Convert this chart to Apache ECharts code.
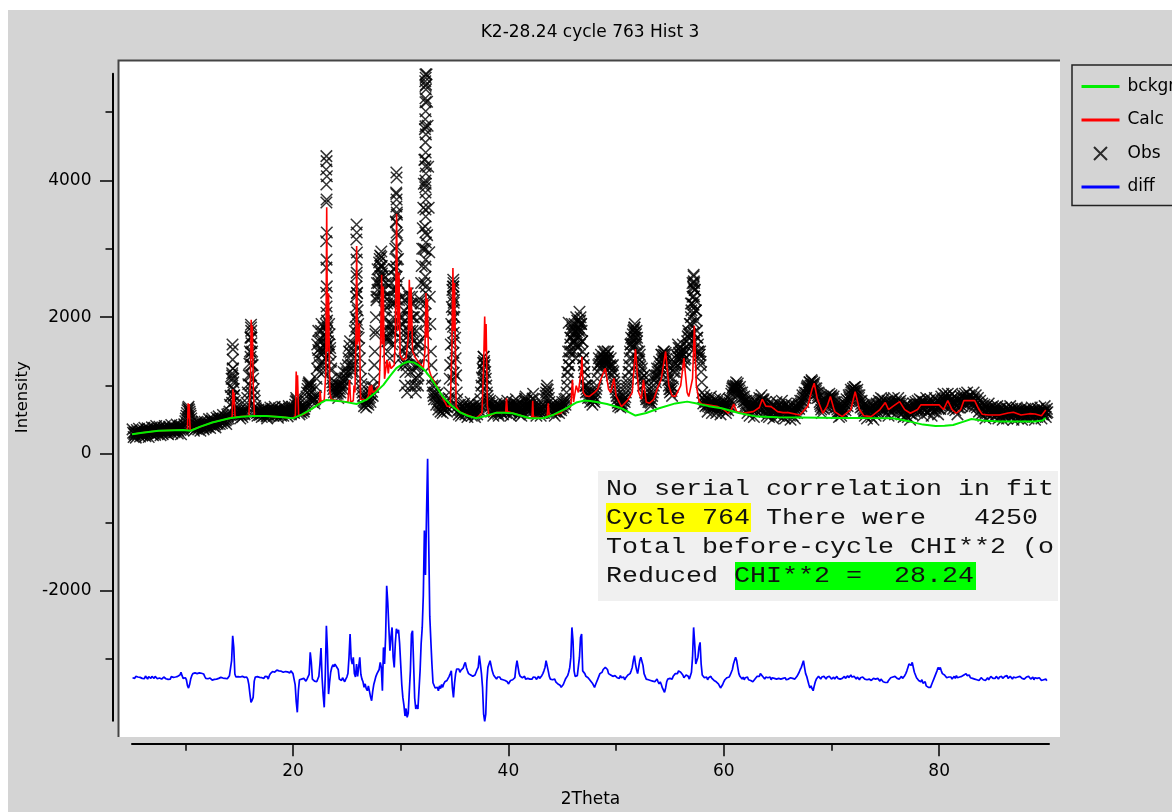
<!DOCTYPE html>
<html>
<head>
<meta charset="utf-8">
<script src="https://cdn.jsdelivr.net/npm/echarts@6/dist/echarts.min.js"></script>
<style>
  html, body { margin: 0; padding: 0; background: #ffffff; }
  #chart { width: 1172px; height: 812px; }
</style>
</head>
<body>
<div id="chart"></div>
<script>
// Rietveld refinement plot: observed counts, calculated profile, background and difference curve.
const titleText = 'K2-28.24 cycle 763 Hist 3';
const seriesNames = ['bckgr', 'Calc', 'Obs', 'diff'];
const xMajorTicks = [20, 40, 60, 80];
const xMinorTicks = [10, 30, 50, 70];
const yMajorTicks = [-2000, 0, 2000, 4000];
const yMinorTicks = [-3000, -1000, 1000, 3000, 5000];
const reportLines = [
  'No serial correlation in fit',
  'Cycle 764 There were   4250',
  'Total before-cycle CHI**2 (o',
  'Reduced CHI**2 =  28.24'
];

// observed profile on a regular 2theta grid: 5.1 .. 90.0, step 0.1 (one row per degree)
const obsStart = 5.1;
const obsStep = 0.1;
const obsCounts = [
  360,250,320,240,350,285,370,255,335,270,
  300,385,260,330,375,250,355,300,390,275,
  380,280,410,300,345,400,275,360,290,385,
  410,310,370,290,400,340,425,300,385,320,
  340,430,300,375,415,290,400,350,435,480,
  560,640,690,620,560,470,400,340,440,370,
  470,360,440,340,480,400,360,470,385,450,
  400,510,380,470,520,410,480,390,530,440,
  550,440,520,450,570,470,540,440,580,520,
  620,850,1100,1250,950,780,680,600,560,640,
  520,610,540,620,580,660,750,900,1150,1500,
  1850,1500,1100,850,700,640,560,650,570,630,
  540,650,560,670,590,520,640,560,680,600,
  660,560,690,580,640,530,670,600,560,690,
  560,680,590,650,550,700,620,580,690,640,
  600,720,820,760,660,580,680,600,700,620,
  700,780,900,1000,1050,1000,900,760,820,740,
  850,1100,1400,1650,1300,1800,1500,1200,1750,1400,
  1700,1850,1450,1750,1350,1100,1000,900,1050,880,
  950,820,1000,900,1100,950,1200,1000,1250,1100,
  1300,1500,1650,1300,1200,1400,1600,2000,2600,2100,
  1700,1400,1100,950,850,700,820,680,800,720,
  900,760,980,850,1100,1500,2000,2500,2300,2800,
  2600,2880,2400,2700,2100,2500,1800,1500,1900,1400,
  2200,1600,2000,2400,3000,3800,3200,2500,2000,1700,
  2300,1500,2100,1000,1700,900,2000,2300,1200,2200,
  1800,2200,1100,900,1600,1000,1300,2000,2500,3000,
  3600,4300,5200,5550,4800,3600,2300,1500,1100,900,
  800,1000,720,880,650,800,620,760,600,720,
  640,760,620,740,900,1300,1900,2400,2500,2000,
  1400,900,700,580,720,560,690,600,740,580,
  650,540,720,600,760,560,700,620,540,680,
  580,720,640,800,1000,1250,1420,1300,1100,900,
  800,700,780,620,720,560,680,600,740,620,
  560,700,620,760,580,680,720,600,780,640,
  700,560,660,760,620,700,800,650,720,580,
  660,560,720,600,780,840,700,620,760,680,
  600,740,880,720,640,560,700,600,680,560,
  640,720,600,800,900,1000,880,760,640,720,
  600,700,560,680,620,740,600,700,640,760,
  680,800,720,900,1100,1300,1500,1700,1900,1750,
  1500,1800,1600,1950,1700,1900,2000,1800,1500,1300,
  1100,900,1000,820,900,760,880,720,840,760,
  900,1000,1200,1400,1250,1450,1300,1500,1350,1450,
  1300,1500,1350,1200,1400,1150,1300,1100,1000,900,
  800,700,820,680,780,700,850,760,900,1000,
  1100,1300,1500,1700,1550,1800,1850,1700,1800,1500,
  1300,1450,1100,1250,1000,1150,900,800,860,760,
  820,700,800,900,1000,1150,1050,1250,1150,1350,
  1200,1450,1300,1500,1400,1480,1300,1150,1000,900,
  1000,850,1100,1300,1200,1450,1300,1550,1400,1500,
  1350,1600,1450,1300,1500,1650,1800,1600,1900,2100,
  2300,2600,2400,2100,1800,1600,1400,1500,1200,900,
  740,860,700,820,620,780,680,840,600,760,
  680,800,600,760,660,820,580,740,640,780,
  700,600,740,640,800,700,880,960,1000,900,
  1000,950,1030,880,980,820,900,760,840,700,
  780,600,740,560,800,660,720,540,780,640,
  740,600,820,680,860,740,800,620,760,560,
  700,540,760,600,720,520,700,580,760,600,
  560,720,620,780,540,700,520,740,600,700,
  620,500,720,560,680,520,700,600,740,660,
  780,700,860,760,900,820,960,1000,900,1050,
  950,1060,980,1040,880,960,820,900,760,700,
  600,760,660,800,700,860,740,880,800,860,
  760,840,680,760,600,700,540,680,560,700,
  600,740,640,800,700,860,800,940,860,960,
  880,980,860,940,780,860,680,780,600,720,
  560,720,520,700,600,760,540,700,500,680,
  560,740,620,780,660,820,700,800,640,760,
  600,780,560,740,620,800,660,820,580,760,
  660,820,700,780,580,740,540,700,560,720,
  540,700,500,680,580,740,620,760,640,780,
  660,800,640,780,560,760,640,820,600,780,
  640,800,560,760,620,820,660,780,580,760,
  660,840,720,880,700,860,740,880,660,840,
  720,880,660,840,640,820,580,780,680,840,
  700,860,740,880,720,900,760,860,680,840,
  740,900,700,860,680,820,620,780,580,740,
  560,720,520,700,600,740,540,680,580,700,
  540,680,580,700,520,660,560,680,500,640,
  560,680,520,660,580,700,540,660,500,640,
  580,680,520,640,560,660,500,620,540,660,
  560,660,520,640,580,680,540,640,500,620,
  540,660,560,680,520,640,580,700,540,660
];

// second set of observed counts on the interleaved grid 5.15 .. 90.05 (step 0.1)
const obsMidStart = 5.15;
const obsCountsMid = [
  310,295,280,310,320,300,330,290,300,290,
  340,320,300,350,310,320,330,345,335,325,
  330,350,360,320,375,340,320,330,350,360,
  360,340,330,350,370,380,360,345,350,370,
  380,360,340,395,350,370,380,400,420,520,
  600,670,650,590,520,430,380,400,410,420,
  420,400,390,420,440,380,420,430,410,425,
  460,440,430,490,460,450,430,460,470,500,
  500,480,490,510,520,500,490,510,550,590,
  720,980,1180,1100,860,720,640,580,600,580,
  570,580,590,600,620,700,820,1020,1320,1700,
  1700,1300,950,780,670,600,610,610,600,580,
  600,600,620,630,550,580,600,620,640,630,
  610,630,640,610,580,600,630,580,620,620,
  620,630,620,600,620,660,600,640,660,620,
  660,770,790,710,620,630,640,650,660,660,
  740,840,950,1030,1020,950,830,790,780,800,
  980,1250,1520,1480,1550,1650,1350,1480,1580,1550,
  1780,1650,1600,1550,1220,1050,950,980,960,910,
  880,910,950,1000,1020,1080,1100,1120,1180,1200,
  1400,1580,1480,1250,1300,1500,1800,2300,2350,1900,
  1550,1250,1020,900,780,760,750,740,760,810,
  830,870,910,980,1300,1750,2250,2400,2550,2700,
  2750,2640,2550,2400,2300,2150,1650,1700,1650,1800,
  1900,1800,2200,2700,3400,3500,2850,2250,1850,2000,
  1900,1800,1550,1350,1300,1450,2150,1750,1700,2000,
  2000,1650,1000,1250,1300,1150,1650,2250,2750,3300,
  3950,4750,5400,5150,4200,2950,1900,1300,1000,850,
  900,860,800,760,720,710,690,680,660,680,
  700,690,680,820,1100,1600,2150,2450,2250,1700,
  1150,800,640,650,640,620,640,670,660,615,
  600,630,660,680,660,630,660,580,610,630,
  650,680,720,900,1120,1330,1360,1200,1000,850,
  750,740,700,670,640,620,640,670,680,590,
  630,660,690,670,630,700,660,690,710,670,
  630,610,710,690,660,750,720,690,650,620,
  610,640,660,690,810,770,660,690,720,640,
  670,810,800,680,600,630,650,640,620,600,
  680,660,700,850,950,940,820,700,680,660,
  650,630,620,650,680,670,650,670,700,720,
  740,760,810,1000,1200,1400,1600,1800,1820,1620,
  1650,1700,1780,1820,1800,1950,1900,1650,1400,1200,
  1000,950,910,860,830,820,800,780,800,830,
  950,1100,1300,1320,1350,1380,1400,1420,1400,1380,
  1400,1420,1280,1300,1280,1220,1200,1050,950,850,
  750,760,750,730,740,780,800,830,950,1050,
  1200,1400,1600,1620,1680,1820,1780,1750,1650,1400,
  1380,1280,1180,1120,1080,1020,850,830,810,790,
  760,750,850,950,1080,1100,1150,1200,1250,1280,
  1320,1380,1400,1450,1440,1390,1220,1080,950,950,
  920,980,1200,1250,1320,1380,1420,1480,1450,1420,
  1480,1520,1380,1400,1580,1720,1700,1750,2000,2200,
  2450,2500,2250,1950,1700,1500,1450,1350,1050,820,
  800,780,760,720,700,730,760,720,680,720,
  740,700,680,710,740,700,660,690,710,740,
  650,670,690,720,750,790,920,980,950,950,
  980,990,950,930,900,860,830,800,770,740,
  690,670,650,680,730,690,630,660,710,690,
  670,710,750,770,800,780,710,690,660,630,
  620,650,680,660,620,610,640,670,680,580,
  640,670,700,660,620,610,630,680,650,660,
  560,610,640,620,600,610,650,670,700,720,
  740,780,810,830,860,890,980,950,975,1000,
  1000,1020,1010,960,920,890,860,830,730,650,
  680,710,730,750,780,800,810,840,830,810,
  800,760,720,680,650,620,610,620,630,650,
  670,690,720,750,780,830,870,900,910,920,
  930,920,900,860,820,770,730,690,660,640,
  640,620,610,650,680,650,620,600,590,620,
  650,680,700,720,740,760,750,720,700,680,
  690,670,650,680,710,750,740,740,670,710,
  740,760,740,680,660,640,620,660,670,630,
  620,600,590,630,660,690,700,720,660,720,
  730,720,710,670,660,700,730,740,690,740,
  720,680,660,690,720,740,720,680,670,710,
  750,780,800,790,780,800,810,770,750,780,
  800,760,750,740,730,710,680,730,760,770,
  780,800,810,800,810,830,810,770,760,790,
  820,800,780,770,750,720,700,680,660,650,
  640,620,610,650,670,640,610,630,640,620,
  610,640,650,610,590,610,620,590,570,600,
  620,600,590,620,640,620,600,580,570,610,
  630,600,580,600,610,580,560,580,600,620,
  610,590,580,610,630,610,590,570,560,580,
  600,610,620,600,580,610,640,620,600,610
];

// extra observed points where the profile climbs steeply (peak flanks), [2theta, counts]
const obsPeakPoints = [
  [14.38,1600],[14.42,1530],[14.4,1380],[14.44,1250],[14.36,1150],[14.46,1050],[14.4,950],[14.5,850],[14.34,750],
  [16.1,1890],[16.12,1800],[16.08,1710],[16.14,1620],[16.1,1480],[16.06,1420],[16.16,1300],[16.12,1150],[16.04,1000],[16.18,900],
  [22.25,1600],[22.35,1800],[22.45,1200],[22.55,1700],[22.65,1900],[22.75,1300],[22.85,1850],[22.95,1600],[23.05,1900],[23.25,1600],[23.35,1900],[23.45,1500],[23.55,1250],
  [23.1,4355],[23.12,4282],[23.08,4160],[23.14,4062],[23.1,3941],[23.12,3721],[23.1,3677],[23.14,3238],[23.08,3110],[23.12,2842],[23.1,2725],[23.14,2451],[23.08,2358],[23.12,2158],[23.1,2066],[23.16,1950],
  [25.9,3355],[25.92,3238],[25.88,3135],[25.94,2945],[25.9,2842],[25.92,2652],[25.88,2447],[25.94,2359],[25.9,2153],[25.92,1963],[25.88,1861],[25.94,1714],
  [27.65,1800],[27.75,2300],[27.85,2700],[27.95,2500],[28.05,2850],[28.1,2900],[28.15,2400],[28.2,2960],[28.25,2750],[28.35,2600],[28.45,2300],[28.55,2000],[28.65,1700],
  [28.75,2200],[28.85,1700],[28.95,2300],[29.05,1900],[29.15,2500],[29.25,1800],[29.3,2400],[29.35,2700],[29.4,2200],[29.45,2600],
  [29.6,4117],[29.62,4043],[29.58,3824],[29.62,3721],[29.6,3619],[29.64,3531],[29.58,3384],[29.62,3238],[29.6,3033],[29.64,2842],[29.58,2740],[29.62,2593],[29.6,2403],[29.64,2256],
  [29.95,1400],[30.05,1900],[30.15,2000],[30.25,1300],[30.35,2250],[30.45,1200],[30.55,1600],[30.65,2350],[30.75,1400],[30.85,1800],[30.95,1000],[31.05,2300],[31.15,1500],[31.25,2000],[31.35,1300],[31.45,1800],[31.55,1100],[31.65,1600],[31.75,1500],[31.85,2200],
  [32.3,5550],[32.32,5500],[32.28,5450],[32.3,5380],[32.34,5330],[32.3,5142],[32.32,5010],[32.28,4893],[32.3,4790],[32.34,4673],[32.3,4556],[32.32,4409],[32.28,4307],[32.3,4205],[32.34,4100],[32.3,4000],[32.32,3950],[32.28,3900],[32.3,3824],[32.34,3721],[32.3,3575],[32.32,3472],[32.28,3326],[32.3,3238],[32.34,3091],[32.3,2989],[32.32,2842],[32.28,2740],[32.3,2593],[32.34,2447],[32.3,2359],[32.32,2200],[32.28,2050],[32.3,1900],[32.34,1750],[32.15,3000],[32.45,3200],[32.2,2500],
  [34.88,2549],[34.9,2447],[34.86,2300],[34.92,2212],[34.88,2110],[34.9,2007],[34.86,1861],[34.92,1773],[34.88,1626],[34.9,1480],[34.86,1333],[34.92,1187],[34.88,1084],
  [37.7,1421],[37.72,1333],[37.68,1230],[37.74,1128],[37.7,1040],
  [45.45,1200],[45.55,1500],[45.6,1920],[45.65,1300],[45.75,1700],[45.85,1500],[45.95,1850],[46.05,1650],[46.15,1900],[46.25,1400],[46.3,2000],[46.35,1750],[46.45,1550],[46.55,1850],[46.6,2080],[46.65,1600],[46.75,1900],[46.85,1650],[46.95,1400],[47.05,1200],[47.15,1000],
  [48.65,1350],[48.95,1500],[49.05,1350],[49.25,1500],
  [51.25,1200],[51.35,1600],[51.45,1400],[51.55,1750],[51.65,1600],[51.7,1850],[51.75,1900],[51.85,1600],[51.95,1700],[52.05,1350],[52.15,1500],[52.25,1200],
  [54.25,1450],[54.45,1500],[54.55,1350],[55.75,1600],[55.95,1550],
  [56.75,1750],[56.85,1900],[56.95,2200],[57.1,2500],[57.2,2622],[57.22,2524],[57.18,2427],[57.24,2305],[57.2,2183],[57.16,2036],[57.22,1919],[57.18,1772],[57.24,1626],[57.2,1524],[57.3,2400],[57.4,2100],[57.5,1700],[57.6,1500],[57.75,1450],[57.85,1300],
  [61.15,1050],[67.95,1050],[68.15,1080],[72.15,980]
];

// calculated profile, [2theta, counts]
const calcProfile = [
  [5.05,290],[6.0,312],[7.5,340],[9.8,352],[10.2,348],[10.26,742],[10.31,520],[10.36,730],[10.45,345],[10.6,342],
  [11.4,400],[12.5,460],[14.1,522],[14.35,545],[14.42,948],[14.47,720],[14.52,900],[14.62,540],
  [15.2,548],[15.9,556],[16.05,1050],[16.12,1963],[16.17,1400],[16.22,1880],[16.32,950],[16.42,560],
  [17.5,557],[19.0,540],[20.0,522],[20.22,560],[20.3,1206],[20.35,850],[20.42,1150],[20.52,560],
  [21.0,580],[21.6,645],[22.3,720],[22.45,760],[22.52,920],[22.6,760],[22.9,790],[23.05,1200],[23.13,3609],[23.2,1500],[23.3,2350],[23.42,900],[23.55,800],
  [24.2,775],[25.1,760],[25.25,1080],[25.35,760],[25.6,780],[25.67,1000],[25.75,900],[25.85,1800],[25.91,3040],[25.98,1600],[26.06,1700],[26.16,1910],[26.28,800],
  [26.8,791],[27.0,850],[27.1,1000],[27.2,860],[27.3,1011],[27.4,900],[27.7,930],
  [28.0,1000],[28.12,1500],[28.23,2622],[28.3,1600],[28.38,2450],[28.5,1100],[28.72,1377],[28.85,1180],[28.95,1352],[29.1,1250],
  [29.4,1300],[29.5,1700],[29.62,3511],[29.72,1800],[29.84,2652],[29.95,1450],
  [30.2,1374],[30.5,1400],[30.7,1700],[30.8,2549],[30.88,1800],[30.97,2437],[31.1,1500],[31.4,1400],[31.63,1350],[31.9,1300],
  [32.1,1250],[32.25,1500],[32.35,2354],[32.42,1700],[32.48,2270],[32.6,1250],[32.8,1150],
  [33.5,950],[34.3,700],[34.6,690],[34.75,1500],[34.85,2720],[34.92,1800],[35.0,2500],[35.15,700],[35.5,611],
  [37.0,523],[37.55,600],[37.7,1300],[37.8,2012],[37.87,1500],[37.93,1900],[38.05,700],[38.2,560],
  [38.9,605],[39.75,610],[39.83,816],[39.9,620],[40.45,596],[42.0,523],[42.2,540],[42.26,780],[42.32,540],[43.2,523],[43.6,545],[43.7,742],[43.8,560],
  [44.85,596],[45.1,645],[45.8,700],[45.95,1084],[46.05,760],[46.3,1000],[46.5,900],[46.75,1200],[46.83,1420],[46.95,900],[47.2,850],[47.5,840],
  [48.0,900],[48.3,950],[48.6,1100],[49.0,1255],[49.3,950],[49.5,900],[49.8,1108],[50.0,850],[50.5,693],[51.1,791],[51.5,900],[51.8,1533],[52.1,900],[52.35,800],[52.54,1084],[52.8,760],
  [53.1,742],[53.5,800],[53.8,938],[54.2,1100],[54.6,1499],[54.9,1000],[55.2,850],[55.5,840],[56.0,1000],[56.3,1401],[56.6,900],[56.75,840],[57.1,1100],[57.27,1875],[57.45,1000],[57.7,780],[57.94,732],
  [58.5,720],[59.45,693],[60.0,650],[60.4,596],[60.7,650],[60.93,732],[61.2,620],[61.75,596],[62.75,620],[63.3,680],[63.57,801],[63.9,700],[64.4,693],[65.0,620],[65.5,605],[66.0,605],[67.06,571],
  [67.8,700],[68.2,950],[68.4,1035],[68.7,800],[69.2,596],[69.6,700],[69.9,840],[70.3,620],[71.0,547],[71.8,650],[72.2,913],[72.6,650],[73.0,560],[73.68,547],
  [74.5,650],[75.0,752],[75.3,650],[75.67,693],[76.33,766],[76.8,650],[77.33,596],[78.0,650],[78.3,718],[79.0,718],[80.0,718],[80.4,650],[80.8,781],[81.2,650],[81.6,596],
  [82.0,650],[82.3,781],[83.3,781],[83.7,650],[84.0,581],[84.6,571],[85.6,571],[86.4,600],[86.9,611],[87.6,571],[88.4,590],[88.9,586],[89.5,560],[89.9,645]
];

// refined background, [2theta, counts]
const backgroundCurve = [
  [5.05,290],[6.0,310],[7.5,340],[9.8,352],[10.5,340],[11.4,400],[12.5,460],[14.1,522],[15.2,545],[16.3,557],[17.5,557],[18.8,540],[20.0,522],
  [20.8,575],[21.6,645],[22.4,730],[23.1,791],[23.9,780],[24.7,766],[25.9,732],[26.8,791],[27.6,890],[28.4,1011],[29.0,1140],[29.6,1255],[30.2,1320],
  [30.7,1352],[31.2,1340],[31.6,1304],[32.2,1230],[32.7,1133],[33.3,990],[33.9,840],[34.7,710],[35.5,611],[36.2,560],[37.0,523],[37.9,555],[38.9,605],
  [39.6,605],[40.4,596],[41.2,560],[42.0,523],[43.2,523],[44.2,575],[45.1,645],[46.3,752],[47.0,781],[47.6,775],[48.2,760],[49.15,732],[50.5,669],
  [51.8,562],[52.8,600],[54.0,670],[55.5,740],[56.6,766],[57.5,740],[58.6,700],[59.8,669],[61.4,600],[63.1,547],[65.0,538],[67.0,535],[69.0,532],
  [71.0,528],[73.0,525],[75.7,523],[76.5,500],[77.3,474],[78.5,430],[79.65,410],[80.5,414],[81.3,425],[82.2,470],[83.0,513],[84.0,490],[85.6,474],
  [87.0,474],[88.9,474],[89.6,490],[89.9,530]
];

// obs - calc on the same grid as obsCounts, plotted shifted down by diffOffset
const diffOffset = -3270;
const diffResidual = [
  0,15,-10,20,-5,10,-15,5,20,-10,
  10,-15,25,0,-20,15,5,-10,20,-5,
  -10,20,5,-15,10,-5,15,-20,0,10,
  5,-15,10,-25,0,-20,15,-10,5,-15,
  10,-5,20,0,40,78,30,-10,10,0,
  -30,-117,-151,-100,-20,30,60,45,70,55,
  60,40,70,50,65,40,55,20,-10,-25,
  -15,-30,-5,-20,-35,-10,-25,0,-20,-30,
  -10,-25,5,-20,-5,-30,-10,10,-15,0,
  30,15,250,613,443,54,10,-5,15,-10,
  10,-5,20,34,5,-15,10,-20,-100,-239,
  -360,-330,-287,-50,10,-5,15,-10,5,-15,
  0,10,-10,20,-5,15,-20,30,60,80,
  90,100,80,95,110,85,100,75,95,105,
  80,100,90,110,85,95,70,100,90,60,
  50,-100,-350,-506,-190,-30,-50,-20,-45,-10,
  -30,-50,-20,-40,50,370,224,-20,-40,-50,
  -30,-60,-40,20,200,433,0,-250,-433,50,
  760,394,-239,-60,80,150,190,160,200,170,
  180,120,-20,-10,-40,0,-30,-60,-20,10,
  60,300,638,273,200,297,60,10,200,20,
  0,297,50,-20,-60,-141,-90,-160,-190,-120,
  -200,-280,-336,-200,-100,-40,20,60,54,120,
  224,150,-190,443,200,600,1345,1100,735,394,
  600,735,300,151,500,716,650,700,500,200,
  -100,-288,-400,-560,-450,-580,-520,-200,100,638,
  687,200,-300,-458,-400,-458,-430,100,500,735,
  1200,2150,1500,2400,3200,2000,900,541,200,-73,
  -100,-150,-170,-140,-190,-120,-160,-100,-141,-90,
  -60,-80,-40,-44,20,60,102,-150,-287,-80,
  60,127,100,127,80,110,90,140,190,224,
  150,102,60,80,40,60,20,0,40,80,
  120,150,322,200,60,-141,-531,-640,-531,-50,
  151,200,248,224,100,50,20,0,-20,10,
  -10,10,-20,0,-30,-10,-40,-20,-60,-92,
  -70,-40,-60,-30,-20,0,151,248,224,60,
  20,40,0,-10,20,-20,0,-10,10,-20,
  0,-20,10,-15,5,-25,0,20,-10,10,
  30,60,100,150,248,224,100,20,-20,0,
  -30,-50,-20,-60,-80,-92,-70,-110,-141,-131,
  -100,-60,-20,0,30,80,150,297,735,540,
  100,20,0,30,20,300,589,638,100,102,
  60,20,40,0,-20,-40,-20,-80,-100,-141,
  -100,-60,-20,20,60,40,80,120,100,151,
  151,120,60,80,40,60,20,0,30,10,
  0,20,-10,30,0,-20,10,-30,0,20,
  40,20,60,100,150,250,322,200,120,60,
  150,250,300,322,180,60,20,-20,0,-30,
  -10,-40,-20,-50,-30,-60,-40,-20,-60,-90,
  -60,-100,-150,-180,-214,-150,-60,-20,-40,-10,
  0,-20,20,40,60,80,60,100,102,80,
  60,40,0,20,40,60,20,-20,30,80,
  300,735,500,200,200,300,450,516,200,40,
  20,0,-20,10,-30,0,-20,20,-10,-20,
  -40,-30,-60,-44,-90,-120,-150,-166,-100,-60,
  -30,-20,0,-20,10,40,60,120,200,250,
  297,250,150,60,20,0,-20,10,-30,0,
  -20,10,-30,-10,-40,-20,-60,-40,-20,0,
  20,40,20,60,40,20,0,-20,10,-10,
  0,-20,10,-30,0,20,-10,10,-20,0,
  -10,-30,-20,-40,-10,-20,0,-30,-10,-20,
  -10,0,20,-10,10,-20,0,20,40,80,
  120,151,200,248,150,60,20,-40,-100,-150,
  -120,-160,-190,-120,-60,-20,0,20,0,-20,
  10,-10,20,0,-20,10,-10,20,0,-20,
  -10,10,-20,0,20,-10,10,-20,0,-10,
  0,20,-10,10,30,0,20,40,10,30,
  20,0,-20,10,-10,-30,0,-20,10,-10,
  -20,0,-30,-10,-20,0,-40,-20,-10,-30,
  -20,-40,-10,-30,-50,-20,-40,-60,-80,-70,
  -92,-70,-40,-20,0,-20,10,-10,20,0,
  -10,10,-20,0,20,-10,10,30,60,100,
  150,200,224,180,224,150,80,40,0,-20,
  -40,-20,-60,-30,-80,-100,-60,-120,-100,-141,
  -120,-141,-100,-60,-20,20,60,100,151,120,
  151,100,60,80,40,20,0,-20,10,-10,
  10,-20,0,20,-10,30,0,-20,10,-10,
  20,0,40,20,60,30,10,40,0,20,
  -10,10,-20,0,-30,-10,-40,-20,0,-20,
  -30,-10,-40,-20,0,-30,-10,20,0,-10,
  10,-10,20,0,-20,10,-10,20,-10,0,
  20,0,30,-10,10,20,0,-20,10,-10,
  0,-20,10,-10,20,0,-10,10,-20,0,
  10,-10,20,0,-20,-10,10,-30,0,-20,
  -10,-30,0,-20,-40,-20,-30,-50,-20,-44
];

const gridAngle = (start, i) => Math.round((start + i * obsStep) * 100) / 100;
const obsPoints = obsCounts.map((v, i) => [gridAngle(obsStart, i), v])
  .concat(obsCountsMid.map((v, i) => [gridAngle(obsMidStart, i), v]))
  .concat(obsPeakPoints);
const diffPoints = diffResidual.map((v, i) => [gridAngle(obsStart, i), diffOffset + v]);

const FONT = 'DejaVu Sans';
const MONO = 'Liberation Mono';
const crossSymbol = 'path://M0,0L10,10M10,0L0,10';
const barIcon = 'path://M0,0L38,0L38,3L0,3Z';

// axis geometry
const xMin = 5.05, xMax = 90.2;
const yMin = -3900, yMax = 5560;

function tickAxisX(values, len, withLabels) {
  return {
    type: 'value', min: xMin, max: xMax, position: 'bottom', offset: 23,
    axisLine: { show: withLabels, onZero: false, lineStyle: { color: '#000', width: 2 } },
    axisTick: { show: true, inside: false, length: len, customValues: values, lineStyle: { color: '#000', width: 1.5 } },
    axisLabel: withLabels ? {
      show: true, customValues: values, margin: 19, color: '#000', fontFamily: FONT, fontSize: 17,
      formatter: v => String(v)
    } : { show: false },
    splitLine: { show: false },
    name: withLabels ? '2Theta' : '',
    nameLocation: 'middle', nameGap: 47,
    nameTextStyle: { color: '#000', fontFamily: FONT, fontSize: 17 }
  };
}
function tickAxisY(values, len, withLabels) {
  return {
    type: 'value', min: yMin, max: yMax, position: 'left', offset: 19.5,
    axisLine: { show: withLabels, onZero: false, lineStyle: { color: '#000', width: 2 } },
    axisTick: { show: true, inside: false, length: len, customValues: values, lineStyle: { color: '#000', width: 1.5 } },
    axisLabel: withLabels ? {
      show: true, customValues: values, margin: 21, color: '#000', fontFamily: FONT, fontSize: 17,
      formatter: v => String(v)
    } : { show: false },
    splitLine: { show: false },
    name: withLabels ? 'Intensity' : '',
    nameLocation: 'middle', nameGap: 80, nameRotate: 90,
    nameTextStyle: { color: '#000', fontFamily: FONT, fontSize: 16.5 }
  };
}

const reportGraphics = [
  { type: 'rect', z: 100, shape: { x: 598, y: 471, width: 460, height: 130 }, style: { fill: '#f0f0f0' } },
  { type: 'rect', z: 101, shape: { x: 606, y: 503, width: 145, height: 29 }, style: { fill: '#ffff00' } },
  { type: 'rect', z: 101, shape: { x: 735, y: 562, width: 241, height: 28 }, style: { fill: '#00ff00' } }
].concat(reportLines.map((t, i) => ({
  type: 'text', z: 102, x: 606, y: 489 + i * 29, scaleX: 1.212,
  style: { text: t, x: 0, y: 0, fill: '#111', font: '22px "' + MONO + '"', verticalAlign: 'middle', align: 'left' }
})));

const chart = echarts.init(document.getElementById('chart'), null, { renderer: 'canvas' });
chart.setOption({
  animation: false,
  backgroundColor: '#ffffff',
  title: {
    text: titleText, left: 590, top: 24, textAlign: 'center', padding: 0,
    textStyle: { color: '#000', fontFamily: FONT, fontSize: 17, fontWeight: 'normal' }
  },
  grid: { left: 132, top: 73.7, width: 917, height: 647.1, containLabel: false, outerBoundsMode: 'none' },
  legend: {
    orient: 'vertical', left: 1072, top: 65,
    padding: [13, 40, 10, 9.5], itemGap: 16.5, itemWidth: 38, itemHeight: 13,
    borderColor: '#222', borderWidth: 1.5, backgroundColor: '#d4d4d4',
    textStyle: { color: '#000', fontFamily: FONT, fontSize: 17, padding: [0, 0, 0, 3] },
    data: [
      { name: 'bckgr', icon: barIcon },
      { name: 'Calc', icon: barIcon },
      { name: 'Obs', icon: crossSymbol },
      { name: 'diff', icon: barIcon }
    ],
    selectedMode: false
  },
  xAxis: [tickAxisX(xMajorTicks, 12.5, true), tickAxisX(xMinorTicks, 7, false)],
  yAxis: [tickAxisY(yMajorTicks, 12.5, true), tickAxisY(yMinorTicks, 7, false)],
  graphic: [
    { type: 'rect', z: -20, shape: { x: 8, y: 10, width: 1164, height: 802 }, style: { fill: '#d4d4d4' } },
    { type: 'rect', z: -10, shape: { x: 118, y: 60, width: 942, height: 677 }, style: { fill: '#ffffff' } },
    { type: 'polyline', z: -9, shape: { points: [[118.5, 737], [118.5, 60.5], [1060, 60.5]] }, style: { stroke: '#444', lineWidth: 2, fill: null } }
  ].concat(reportGraphics),
  series: [
    {
      name: 'Obs', type: 'scatter', data: obsPoints, xAxisIndex: 0, yAxisIndex: 0,
      symbol: crossSymbol, symbolSize: 11.5, clip: false, silent: true, z: 2, large: false,
      itemStyle: { color: 'rgba(0,0,0,0)', borderColor: '#000', borderWidth: 1.5 }
    },
    {
      name: 'Calc', type: 'line', data: calcProfile, xAxisIndex: 0, yAxisIndex: 0,
      symbol: 'none', clip: false, silent: true, z: 3,
      lineStyle: { color: '#ff0000', width: 1.6 }, itemStyle: { color: '#ff0000' }
    },
    {
      name: 'bckgr', type: 'line', data: backgroundCurve, xAxisIndex: 0, yAxisIndex: 0,
      symbol: 'none', clip: false, silent: true, z: 4,
      lineStyle: { color: '#00ee00', width: 2 }, itemStyle: { color: '#00ee00' }
    },
    {
      name: 'diff', type: 'line', data: diffPoints, xAxisIndex: 0, yAxisIndex: 0,
      symbol: 'none', clip: false, silent: true, z: 3,
      lineStyle: { color: '#0000ff', width: 1.7 }, itemStyle: { color: '#0000ff' }
    }
  ]
});
</script>
</body>
</html>
